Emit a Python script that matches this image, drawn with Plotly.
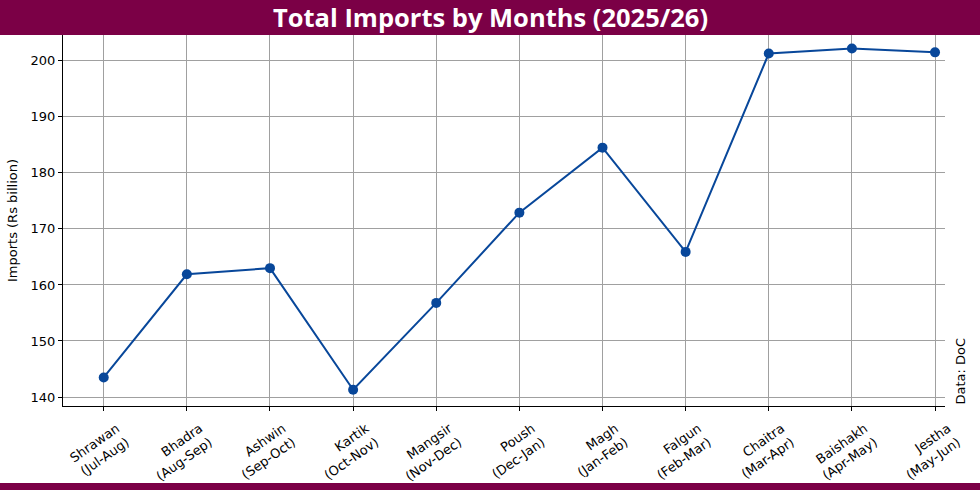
import plotly.graph_objects as go

months = ["Shrawan<br>(Jul-Aug)", "Bhadra<br>(Aug-Sep)", "Ashwin<br>(Sep-Oct)", "Kartik<br>(Oct-Nov)",
          "Mangsir<br>(Nov-Dec)", "Poush<br>(Dec-Jan)", "Magh<br>(Jan-Feb)", "Falgun<br>(Feb-Mar)",
          "Chaitra<br>(Mar-Apr)", "Baishakh<br>(Apr-May)", "Jestha<br>(May-Jun)"]
imports = [143.5, 161.9, 163.0, 141.3, 156.8, 172.9, 184.5, 165.9, 201.3, 202.2, 201.5]
yticks = [140, 150, 160, 170, 180, 190, 200]

L, R, T, B = 63, 35, 35, 84
W, H = 980, 490
pw, ph = W - L - R, H - T - B

fig = go.Figure()
fig.add_trace(go.Scatter(
    x=list(range(len(months))), y=imports, mode="lines+markers",
    line=dict(color="#08479a", width=2),
    marker=dict(color="#08479a", size=10),
    hoverinfo="y", showlegend=False,
))

fig.update_layout(
    width=W, height=H,
    margin=dict(l=L, r=R, t=T, b=B),
    paper_bgcolor="white", plot_bgcolor="white",
    font=dict(family="DejaVu Sans", size=13, color="black"),
    xaxis=dict(
        tickmode="array", tickvals=list(range(len(months))), ticktext=months,
        tickangle=-35, range=[-0.49, 10.12], automargin=False,
        showgrid=True, gridcolor="#a0a0a0", gridwidth=1,
        showline=True, linecolor="black", linewidth=1,
        ticks="outside", ticklen=4, tickcolor="black", zeroline=False,
        tickfont=dict(size=13), ticklabelshift=13, ticklabelstandoff=5,
    ),
    yaxis=dict(
        tickmode="array", tickvals=yticks, range=[138.4, 204.6], automargin=False,
        showgrid=True, gridcolor="#a0a0a0", gridwidth=1,
        showline=True, linecolor="black", linewidth=1,
        ticks="outside", ticklen=4, tickcolor="black", zeroline=False,
        title=dict(text="Imports (Rs billion)", font=dict(size=13), standoff=10),
        tickfont=dict(size=13),
    ),
    shapes=[
        dict(type="rect", xref="paper", yref="paper",
             x0=-L / pw, x1=1 + R / pw, y0=1, y1=1 + T / ph,
             fillcolor="#7b0046", line=dict(width=0), layer="above"),
        dict(type="rect", xref="paper", yref="paper",
             x0=-L / pw, x1=1 + R / pw, y0=-(B) / ph, y1=-(B - 7) / ph,
             fillcolor="#7b0046", line=dict(width=0), layer="above"),
    ],
    annotations=[
        dict(text="<b>Total Imports by Months (2025/26)</b>", xref="paper", yref="paper",
             x=(490 - L) / pw, y=1 + 17.5 / ph, xanchor="center", yanchor="middle",
             showarrow=False, font=dict(family="Open Sans", size=25.5, color="white")),
        dict(text="Data: DoC", xref="paper", yref="paper",
             x=(960 - L) / pw, y=0, xanchor="center", yanchor="bottom", textangle=-90,
             showarrow=False, font=dict(size=13, color="black")),
    ],
)

fig.write_html("out.html")
